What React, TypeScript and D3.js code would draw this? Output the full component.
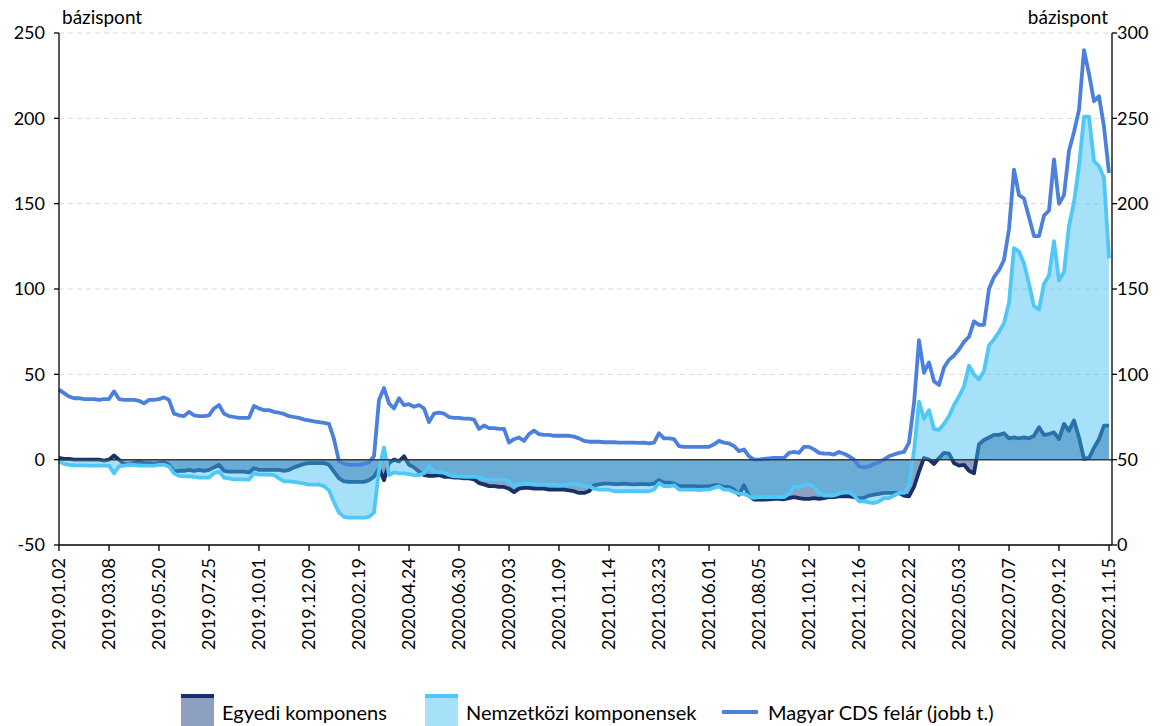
import * as d3 from 'd3';

// x tengely címkék (minden 10. minta)
const tickLabels = [
  '2019.01.02', '2019.03.08', '2019.05.20', '2019.07.25', '2019.10.01', '2019.12.09',
  '2020.02.19', '2020.04.24', '2020.06.30', '2020.09.03', '2020.11.09', '2021.01.14',
  '2021.03.23', '2021.06.01', '2021.08.05', '2021.10.12', '2021.12.16', '2022.02.22',
  '2022.05.03', '2022.07.07', '2022.09.12', '2022.11.15',
];

const leftTicks = [-50, 0, 50, 100, 150, 200, 250];
const rightTicks = [0, 50, 100, 150, 200, 250, 300];

// Magyar CDS felár (jobb tengely, bázispont)
const cds = [
  91, 89, 87, 86, 86, 85.5, 85.5, 85.5, 85, 85.5, 85.5, 90, 85.5, 85, 85, 85, 84.5, 83, 85, 85,
  85.5, 86.5, 85, 77, 76, 75.5, 78, 76, 75.5, 75.5, 76, 80, 82, 77, 75.5, 75, 74.5, 74.5, 74.5, 81.5,
  80, 79, 79, 78, 77.5, 76.8, 75.5, 75, 74.5, 73.5, 73, 72.5, 72, 71.5, 71, 62, 49, 47.5, 47, 47,
  47, 47.5, 48.5, 52, 85, 92, 83, 80, 86, 82, 82.5, 81, 82, 80, 72, 77, 77.5, 77, 75, 74.5,
  74.5, 74, 74, 73.5, 68, 70, 68.5, 68.5, 68, 68, 60, 62, 63, 61, 65, 67, 65, 64.5, 64.5, 64,
  64, 64, 64, 63.5, 62.5, 61, 60.5, 60.5, 60.5, 60.2, 60.2, 60.2, 60, 60, 60, 60, 59.8, 60, 59.5, 60,
  65.5, 62.5, 62.5, 62, 58, 57.5, 57.5, 57.5, 57.5, 57.5, 57.5, 59, 61, 60, 59.5, 58, 55, 56, 52, 50,
  50, 50.5, 50.8, 51, 51, 51, 54, 54.5, 54, 57.5, 57.5, 56, 54, 53.5, 53.5, 53, 54.5, 53.5, 52, 50,
  46, 45.5, 46, 47.5, 48.5, 50, 52, 53, 54, 54.5, 60, 83, 120, 101, 107, 96, 93.7, 104, 108.5, 111,
  114.5, 119, 122, 131, 129, 129, 150, 157, 161, 167, 185, 220, 205, 203, 192, 181, 181, 193, 196, 226,
  200, 205, 231, 242, 255, 290, 276, 260, 263, 245, 218,
];

// Egyedi komponens (bal tengely)
const egyedi = [
  1, 0.5, 0.5, 0, 0, 0, 0, 0, 0, -0.5, 0, 2.5, 0, -2.5, -3, -2, -1, -2, -2, -2.5,
  -2, -1.5, -3, -7, -6.5, -6.5, -6, -6.5, -6, -6.5, -6, -4.5, -3, -6.5, -7, -7, -7, -7, -7.5, -5,
  -6, -6, -6, -6, -6, -6.5, -6, -4.5, -3.5, -2.5, -2, -2, -2, -2, -3, -7, -11, -12.7, -13, -13,
  -13, -13, -12, -10, -5, -12, -2, 0, -1, 2, -3, -4.5, -7, -9, -9.5, -9.5, -9, -10, -10, -10.5,
  -10.5, -11, -11, -11.5, -13.7, -14.5, -15.5, -15.5, -16, -16, -17, -19, -17, -16.5, -16.5, -17, -17, -17, -17.5, -17.5,
  -17.5, -17.5, -18, -18.5, -19.5, -19.5, -18.5, -15, -14.5, -14, -14, -14.3, -14.3, -14, -14.3, -14.5, -14.3, -14.3, -14.5, -14,
  -12, -13.5, -13.5, -14, -15.5, -15.5, -15.5, -15.5, -15.8, -15.6, -15.6, -15, -15, -16, -16, -17.5, -20.5, -15, -21, -23.4,
  -23.4, -23.4, -23.2, -23, -23, -23.2, -22.5, -22, -22.5, -23, -23, -22.5, -23, -22.5, -22, -22, -21.5, -21.5, -21.5, -22,
  -22.5, -22.4, -21, -20.5, -20, -19.5, -19.5, -19.5, -19.5, -21, -21.5, -16, -7, 1, 0, -2.5, 1, 4, 3.5, -2,
  -3.5, -3, -6.5, -8, 9, 11.5, 13, 14.5, 14.5, 15.5, 12.5, 13, 12.5, 13, 12.5, 14, 19, 14.5, 15, 16,
  12, 21, 17, 23, 13, 0.5, 1, 7, 12, 20, 20,
];

// Nemzetközi komponensek (bal tengely)
const nemzetkozi = [
  -1, -2.5, -3, -3.3, -3.3, -3.3, -3.5, -3.5, -3.5, -3.5, -3.5, -8, -4, -3.5, -3, -3, -3.5, -3.5, -3.5, -3.5,
  -3, -3, -4, -8, -9.5, -9.8, -9.8, -10, -10.5, -10.5, -10.5, -8, -7, -10.5, -11, -11.5, -11.5, -11.5, -11.7, -8,
  -8.8, -8.8, -8.8, -9, -11, -12.7, -12.7, -13, -13.5, -14, -14.6, -14.6, -14.6, -15.5, -18, -25, -31, -33.5, -34, -34,
  -34, -34, -33.5, -31, -6, 7, -9, -7.5, -8, -8, -8.5, -9, -9, -8, -4, -7, -7.5, -7.5, -9, -9.8,
  -9.8, -10, -10, -10, -10.5, -11.5, -11.7, -11.7, -11.7, -11.7, -13, -15.5, -14.3, -14.3, -14, -14.3, -14.6, -14.6, -14.6, -14.8,
  -15, -14.8, -14.6, -14, -14.5, -15.5, -15.6, -17, -17.5, -17.6, -17.6, -18.5, -18.5, -18.5, -18.3, -18.5, -18.5, -18.5, -18.5, -17.5,
  -13.7, -15.5, -15.6, -15, -17.5, -17.6, -17.6, -17.6, -17.8, -17.6, -17.6, -16.5, -15.6, -17.5, -17.6, -19, -20, -20, -21.5, -22.4,
  -22, -22, -22, -22, -21.8, -22, -20, -15.6, -16.5, -14.6, -14.6, -16, -19.5, -21, -21, -21, -20, -19, -19, -21,
  -24.4, -24.4, -25, -25.4, -24.5, -22.5, -22.5, -21, -19.5, -19.5, -15, 5, 34, 24, 29, 18, 17.5, 21, 25.4, 32,
  37, 43, 55, 50, 47, 52, 67, 70.5, 75, 80, 92, 124, 122, 115, 103, 90, 88, 103, 108, 128,
  105, 110, 137, 151, 172, 201, 201, 175, 172, 165, 118,
];

const W = 1160;
const H = 726;
const plot = { left: 59, right: 1112, top: 33, bottom: 545 };

const colors = {
  egyediFill: '#8da0bf',
  egyediLine: '#17306b',
  nemzFill: 'rgb(63,190,243)',
  nemzLine: '#4fc8f7',
  cds: '#4b80dd',
  grid: '#d9d9d9',
  axis: '#000',
};

const font = 'Lato, "Open Sans", sans-serif';

export default function App() {
  const x = d3.scaleLinear().domain([0, cds.length - 0.4]).range([plot.left, plot.right]);
  const yL = d3.scaleLinear().domain([-50, 250]).range([plot.bottom, plot.top]);
  const yR = d3.scaleLinear().domain([0, 300]).range([plot.bottom, plot.top]);

  const area = d3
    .area<number>()
    .x((_, i) => x(i))
    .y0(yL(0))
    .y1((d) => yL(d));
  const lineL = d3
    .line<number>()
    .x((_, i) => x(i))
    .y((d) => yL(d));
  const lineR = d3
    .line<number>()
    .x((_, i) => x(i))
    .y((d) => yR(d));

  const tickIdx = tickLabels.map((_, i) => i * 10);

  return (
    <div style={{ position: 'absolute', left: 0, top: 0 }}>
      <svg width={W} height={H} style={{ display: 'block', fontFamily: font }}>
        {/* rácsvonalak */}
        {leftTicks
          .filter((t) => t > 0)
          .map((t) => (
            <line
              key={t}
              x1={plot.left}
              x2={plot.right}
              y1={yL(t)}
              y2={yL(t)}
              stroke={colors.grid}
              strokeDasharray='5,4'
              strokeWidth={1}
            />
          ))}

        {/* egyedi komponens */}
        <path d={area(egyedi) ?? ''} fill={colors.egyediFill} />
        <path
          d={lineL(egyedi) ?? ''}
          fill='none'
          stroke={colors.egyediLine}
          strokeWidth={3.8}
          strokeLinejoin='round'
        />

        {/* nemzetközi komponensek */}
        <path d={area(nemzetkozi) ?? ''} fill={colors.nemzFill} fillOpacity={0.46} />
        <path
          d={lineL(nemzetkozi) ?? ''}
          fill='none'
          stroke={colors.nemzLine}
          strokeWidth={3.8}
          strokeLinejoin='round'
        />

        {/* CDS felár */}
        <path
          d={lineR(cds) ?? ''}
          fill='none'
          stroke={colors.cds}
          strokeWidth={3.8}
          strokeLinejoin='round'
        />

        {/* nulla vonal */}
        <line x1={plot.left} x2={plot.right} y1={yL(0)} y2={yL(0)} stroke='#3a3a3a' strokeWidth={1.5} />

        {/* tengelyek */}
        <line x1={plot.left} x2={plot.left} y1={plot.top} y2={plot.bottom} stroke={colors.axis} strokeWidth={1.3} />
        <line x1={plot.right} x2={plot.right} y1={plot.top} y2={plot.bottom} stroke={colors.axis} strokeWidth={1.3} />
        <line x1={plot.left} x2={plot.right} y1={plot.bottom} y2={plot.bottom} stroke={colors.axis} strokeWidth={1.3} />

        {leftTicks.map((t) => (
          <g key={`l${t}`}>
            <line x1={plot.left - 5} x2={plot.left} y1={yL(t)} y2={yL(t)} stroke={colors.axis} strokeWidth={1.3} />
            <text x={plot.left - 14} y={yL(t)} dy='0.36em' textAnchor='end' fontSize={18}>
              {t}
            </text>
          </g>
        ))}
        {rightTicks.map((t) => (
          <g key={`r${t}`}>
            <line x1={plot.right} x2={plot.right + 5} y1={yR(t)} y2={yR(t)} stroke={colors.axis} strokeWidth={1.3} />
            <text x={plot.right + 5} y={yR(t)} dy='0.36em' textAnchor='start' fontSize={18}>
              {t}
            </text>
          </g>
        ))}

        {tickIdx.map((ti, i) => (
          <g key={`x${i}`}>
            <line x1={x(ti)} x2={x(ti)} y1={plot.bottom} y2={plot.bottom + 6} stroke={colors.axis} strokeWidth={1.3} />
            <text
              transform={`translate(${x(ti)},${plot.bottom + 13}) rotate(-90)`}
              dy='0.36em'
              textAnchor='end'
              fontSize={18}
            >
              {tickLabels[i]}
            </text>
          </g>
        ))}

        {/* tengelycímek */}
        <text x={62} y={24} fontSize={19}>
          bázispont
        </text>
        <text x={1108} y={24} fontSize={19} textAnchor='end'>
          bázispont
        </text>

        {/* jelmagyarázat */}
        <g>
          <rect x={181} y={694} width={33} height={34} fill={colors.egyediFill} />
          <rect x={181} y={694} width={33} height={4} fill={colors.egyediLine} />
          <text x={222} y={720} fontSize={20}>
            Egyedi komponens
          </text>

          <rect x={425} y={694} width={33} height={34} fill={colors.nemzFill} fillOpacity={0.46} />
          <rect x={425} y={694} width={33} height={4} fill={colors.nemzLine} />
          <text x={466} y={720} fontSize={20}>
            Nemzetközi komponensek
          </text>

          <line x1={722} x2={758} y1={712} y2={712} stroke={colors.cds} strokeWidth={4} />
          <text x={768} y={720} fontSize={20}>
            Magyar CDS felár (jobb t.)
          </text>
        </g>
      </svg>
    </div>
  );
}
